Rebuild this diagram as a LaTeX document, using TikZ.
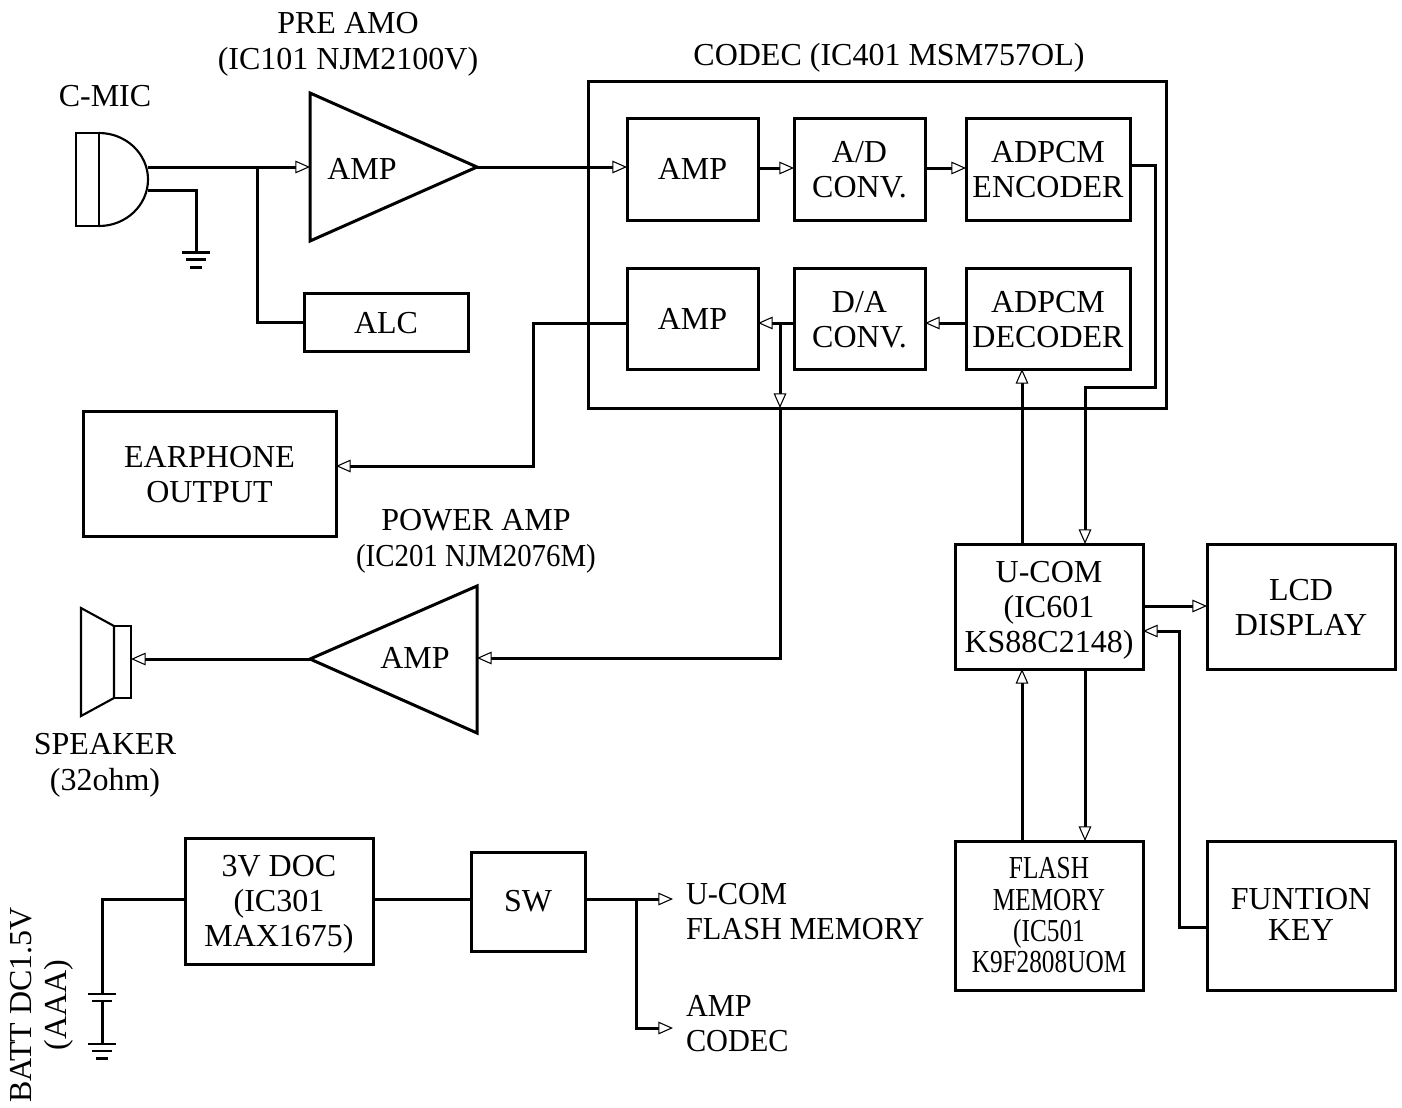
\documentclass[tikz,border=0pt]{standalone}
\usepackage{fontspec}
\setmainfont{Liberation Serif}
\newfontfamily\narrowfont[FakeStretch=0.79]{Liberation Serif}
\newfontfamily\midfont[FakeStretch=0.947]{Liberation Serif}
\newfontfamily\powfont[FakeStretch=0.902]{Liberation Serif}
\newcommand\dn{\rule{0pt}{17.4pt}}
\usetikzlibrary{arrows.meta}
\tikzset{
  wire/.style={line width=2.25pt,line join=miter},
  thinline/.style={line width=1.6pt,line join=miter},
  arr/.style={wire,-{Triangle[length=11pt,width=9.5pt,fill=white,line width=0.8pt]}},
  bsize/.style 2 args={minimum width=#1*0.75pt,minimum height=#2*0.75pt},
  blk/.style={draw,line width=2.25pt,inner sep=0pt,outer sep=0pt,align=center,font=\fontsize{24}{26.25}\selectfont},
  blks/.style={blk,font=\fontsize{24}{23.5}\selectfont},
  lbl/.style={inner sep=0pt,outer sep=0pt,align=center,font=\fontsize{24}{26.5}\selectfont},
  lbll/.style={lbl,align=left,font=\fontsize{24}{26.25}\selectfont},
}
\begin{document}
\begin{tikzpicture}[x=0.75pt,y=-0.75pt]
\useasboundingbox (0,0) rectangle (1402,1107);
% blocks
\node[blk,bsize={578}{327}] (codec) at (877,244.5) {};
\node[blk,bsize={131}{102}] (amp1) at (692.5,169) {AMP};
\node[blk,bsize={131}{102}] (ad) at (859.5,169) {\dn A/D\\CONV.};
\node[blk,bsize={164}{102}] (enc) at (1048,169) {\dn ADPCM\\ENCODER};
\node[blk,bsize={131}{101}] (amp2) at (692.5,318.5) {AMP};
\node[blk,bsize={131}{101}] (da) at (859.5,318.5) {\dn D/A\\CONV.};
\node[blk,bsize={164}{101}] (dec) at (1048,318.5) {\dn ADPCM\\DECODER};
\node[blk,bsize={164}{58}] (alc) at (386,322) {\dn ALC};
\node[blk,bsize={253}{125}] (ear) at (209.5,473.5) {\dn EARPHONE\\OUTPUT};
\node[blk,bsize={188}{125}] (ucom) at (1049,606.5) {U-COM\\(IC601\\\smash{KS88C2148)}};
\node[blk,bsize={188}{125}] (lcd) at (1301,606.5) {\dn LCD\\DISPLAY};
\node[blks,bsize={188}{149}] (flash) at (1049,915.5) {\narrowfont FLASH\\\narrowfont MEMORY\\\narrowfont (IC501\\\narrowfont K9F2808UOM};
\node[blks,bsize={188}{149}] (key) at (1301,915.5) {FUNTION\\KEY\rule[-1.5pt]{0pt}{0pt}};
\node[blk,bsize={188}{126}] (doc) at (279,901) {3V DOC\\(IC301\\\smash{MAX1675)}};
\node[blk,bsize={114}{99}] (sw) at (528,901.5) {SW};
% triangles
\coordinate (preout) at (477,167);
\coordinate (prein) at (310,167);
\draw[wire] (310,93) -- (preout) -- (310,241) -- cycle;
\node[lbl] (pretext) at (362,169) {AMP};
\coordinate (powin) at (477,658);
\coordinate (powout) at (310,659);
\draw[wire] (477,586) -- (powout) -- (477,733) -- cycle;
\node[lbl] (powtext) at (415,658) {AMP};
% microphone
\draw[thinline] (99,133) -- (76,133) -- (76,226) -- (99,226) -- cycle;
\draw[thinline] (99,133) arc[start angle=-90,end angle=90,x radius=49,y radius=46.5];
\coordinate (micout) at (148,167);
\coordinate (micgnd) at (148,190);
\coordinate (j1) at (257,167);
\coordinate (g1) at (196,190);
\coordinate (g1b) at (196,252);
\draw[arr] (micout) -- (prein);
\draw[wire] (j1) |- (alc.west);
\draw[wire] (micgnd) -- (g1) -- (g1b);
\draw[wire] (182,252) -- (210,252) (186,259.5) -- (206,259.5) (190,267) -- (202,267);
% codec chain
\draw[arr] (preout) -- (amp1.west |- preout);
\draw[arr] (amp1.east |- 0,168) -- (ad.west |- 0,168);
\draw[arr] (ad.east |- 0,168) -- (enc.west |- 0,168);
\coordinate (e1) at (1155,165);
\coordinate (e2) at (1155,387);
\coordinate (e3) at (1085,387);
\draw[arr] (enc.east |- e1) -- (e1) -- (e2) -- (e3) -- (e3 |- ucom.north);
\coordinate (dy) at (0,323);
\draw[arr] (dec.west |- dy) -- (da.east |- dy);
\draw[arr] (da.west |- dy) -- (amp2.east |- dy);
\coordinate (j2) at (780,323);
\coordinate (j3) at (780,408);
\coordinate (j4) at (780,658);
\draw[arr] (j2) -- (j3);
\draw[arr] (j3) -- (j4) -- (powin);
\coordinate (o1) at (533,323);
\coordinate (o2) at (533,466);
\draw[arr] (amp2.west |- dy) -- (o1) -- (o2) -- (ear.east |- o2);
% u-com connections
\coordinate (u1) at (1022,0);
\coordinate (u2) at (1085,0);
\draw[arr] (u1 |- ucom.north) -- (u1 |- dec.south);
\draw[arr] (u1 |- flash.north) -- (u1 |- ucom.south);
\draw[arr] (u2 |- ucom.south) -- (u2 |- flash.north);
\coordinate (l1) at (0,606);
\draw[arr] (ucom.east |- l1) -- (lcd.west |- l1);
\coordinate (k1) at (1179,927);
\coordinate (k2) at (1179,631);
\draw[arr] (key.west |- k1) -- (k1) -- (k2) -- (ucom.east |- k2);
% speaker
\draw[thinline] (114,626) -- (81,608) -- (81,716) -- (114,698) -- cycle;
\draw[thinline] (114,626) rectangle (131,698);
\coordinate (spk) at (131,659);
\draw[arr] (powout) -- (spk);
% power section
\coordinate (pw1) at (673,899);
\coordinate (j5) at (636,899);
\coordinate (pw2) at (673,1028);
\draw[wire] (doc.east |- pw1) -- (sw.west |- pw1);
\draw[arr] (sw.east |- pw1) -- (pw1);
\draw[arr] (j5) |- (pw2);
\coordinate (b1) at (102,899);
\coordinate (b2) at (102,994);
\coordinate (b3) at (102,1001);
\coordinate (b4) at (102,1044);
\draw[wire] (doc.west |- b1) -- (b1) -- (b2);
\draw[wire] (b3) -- (b4);
\draw[line width=1.8pt] (88,994) -- (116,994) (92,1001) -- (112,1001);
\draw[line width=1.8pt] (88,1044) -- (116,1044) (92,1051) -- (112,1051);
\draw[wire] (96,1058) -- (108,1058);
% labels
\node[lbl] (tpre) at (348,41) {PRE AMO\\\smash{(IC101 NJM2100V)}};
\node[lbl] (tcodec) at (889,65) {\smash{CODEC (IC401 MSM757OL)}};
\node[lbl] (tmic) at (105,96) {C-MIC};
\node[lbl] (tpow) at (476,538) {POWER AMP\\\smash{\powfont (IC201 NJM2076M)}};
\node[lbl] (tspk) at (105,762) {SPEAKER\\\smash{(32ohm)}};
\node[lbl,rotate=90] (tbatt) at (38.5,1005) {BATT DC1.5V\\\smash{(AAA)}};
\node[lbll,anchor=west] (tu) at (686,911.5) {\midfont U-COM\\\midfont FLASH MEMORY};
\node[lbll,anchor=west] (ta) at (686,1023.5) {\midfont AMP\\\midfont CODEC};
\end{tikzpicture}
\end{document}
